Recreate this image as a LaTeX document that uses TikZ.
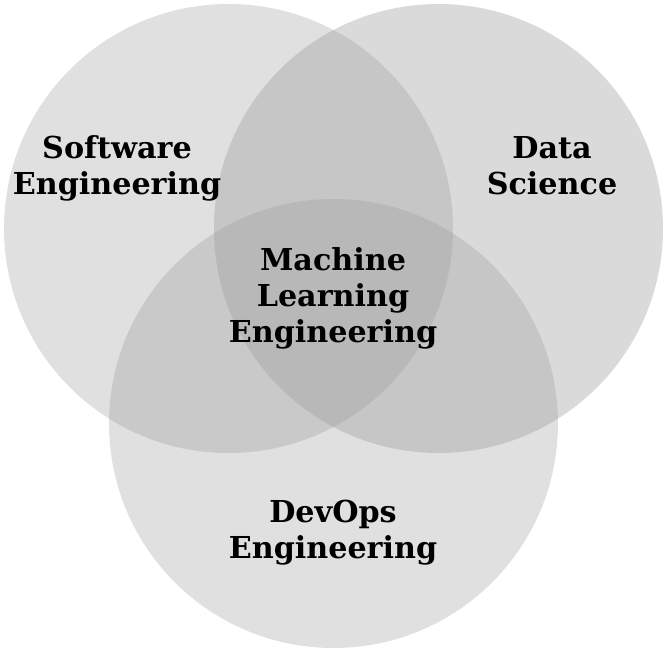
\documentclass[tikz,border=0pt]{standalone}
\usepackage{fontspec}
\setmainfont{DejaVu Serif}
\definecolor{cL}{HTML}{E0E0E0}
\definecolor{cR}{HTML}{DADADA}
\definecolor{cB}{HTML}{E0E0E0}
\definecolor{cLR}{HTML}{C6C6C6}
\definecolor{cLB}{HTML}{C9C9C9}
\definecolor{cRB}{HTML}{C6C6C6}
\definecolor{cLRB}{HTML}{B8B8B8}
\tikzset{
  lbl/.style={align=center, inner sep=0pt, text=black,
    font=\fontsize{30.2bp}{36bp}\selectfont\bfseries}
}
\begin{document}
\begin{tikzpicture}[x=1bp,y=-1bp]
\useasboundingbox (0,0) rectangle (666,651);
\def\circL{(228.5,228.5) circle[radius=224.5]}
\def\circR{(438.5,228.5) circle[radius=224.5]}
\def\circB{(333.5,423.5) circle[radius=224.5]}
\fill[cL] \circL;
\fill[cR] \circR;
\fill[cB] \circB;
\begin{scope}\clip \circL; \fill[cLR] \circR; \end{scope}
\begin{scope}\clip \circL; \fill[cLB] \circB; \end{scope}
\begin{scope}\clip \circR; \fill[cRB] \circB; \end{scope}
\begin{scope}\clip \circL; \clip \circR; \fill[cLRB] \circB; \end{scope}
\node[lbl] (sw) at (117,168) {Software\\Engineering};
\node[lbl] (ds) at (552,166) {Data\\Science};
\node[lbl] (ml) at (333,298) {Machine\\Learning\\Engineering};
\node[lbl] (dev) at (333,533) {DevOps\\Engineering};
\end{tikzpicture}
\end{document}
